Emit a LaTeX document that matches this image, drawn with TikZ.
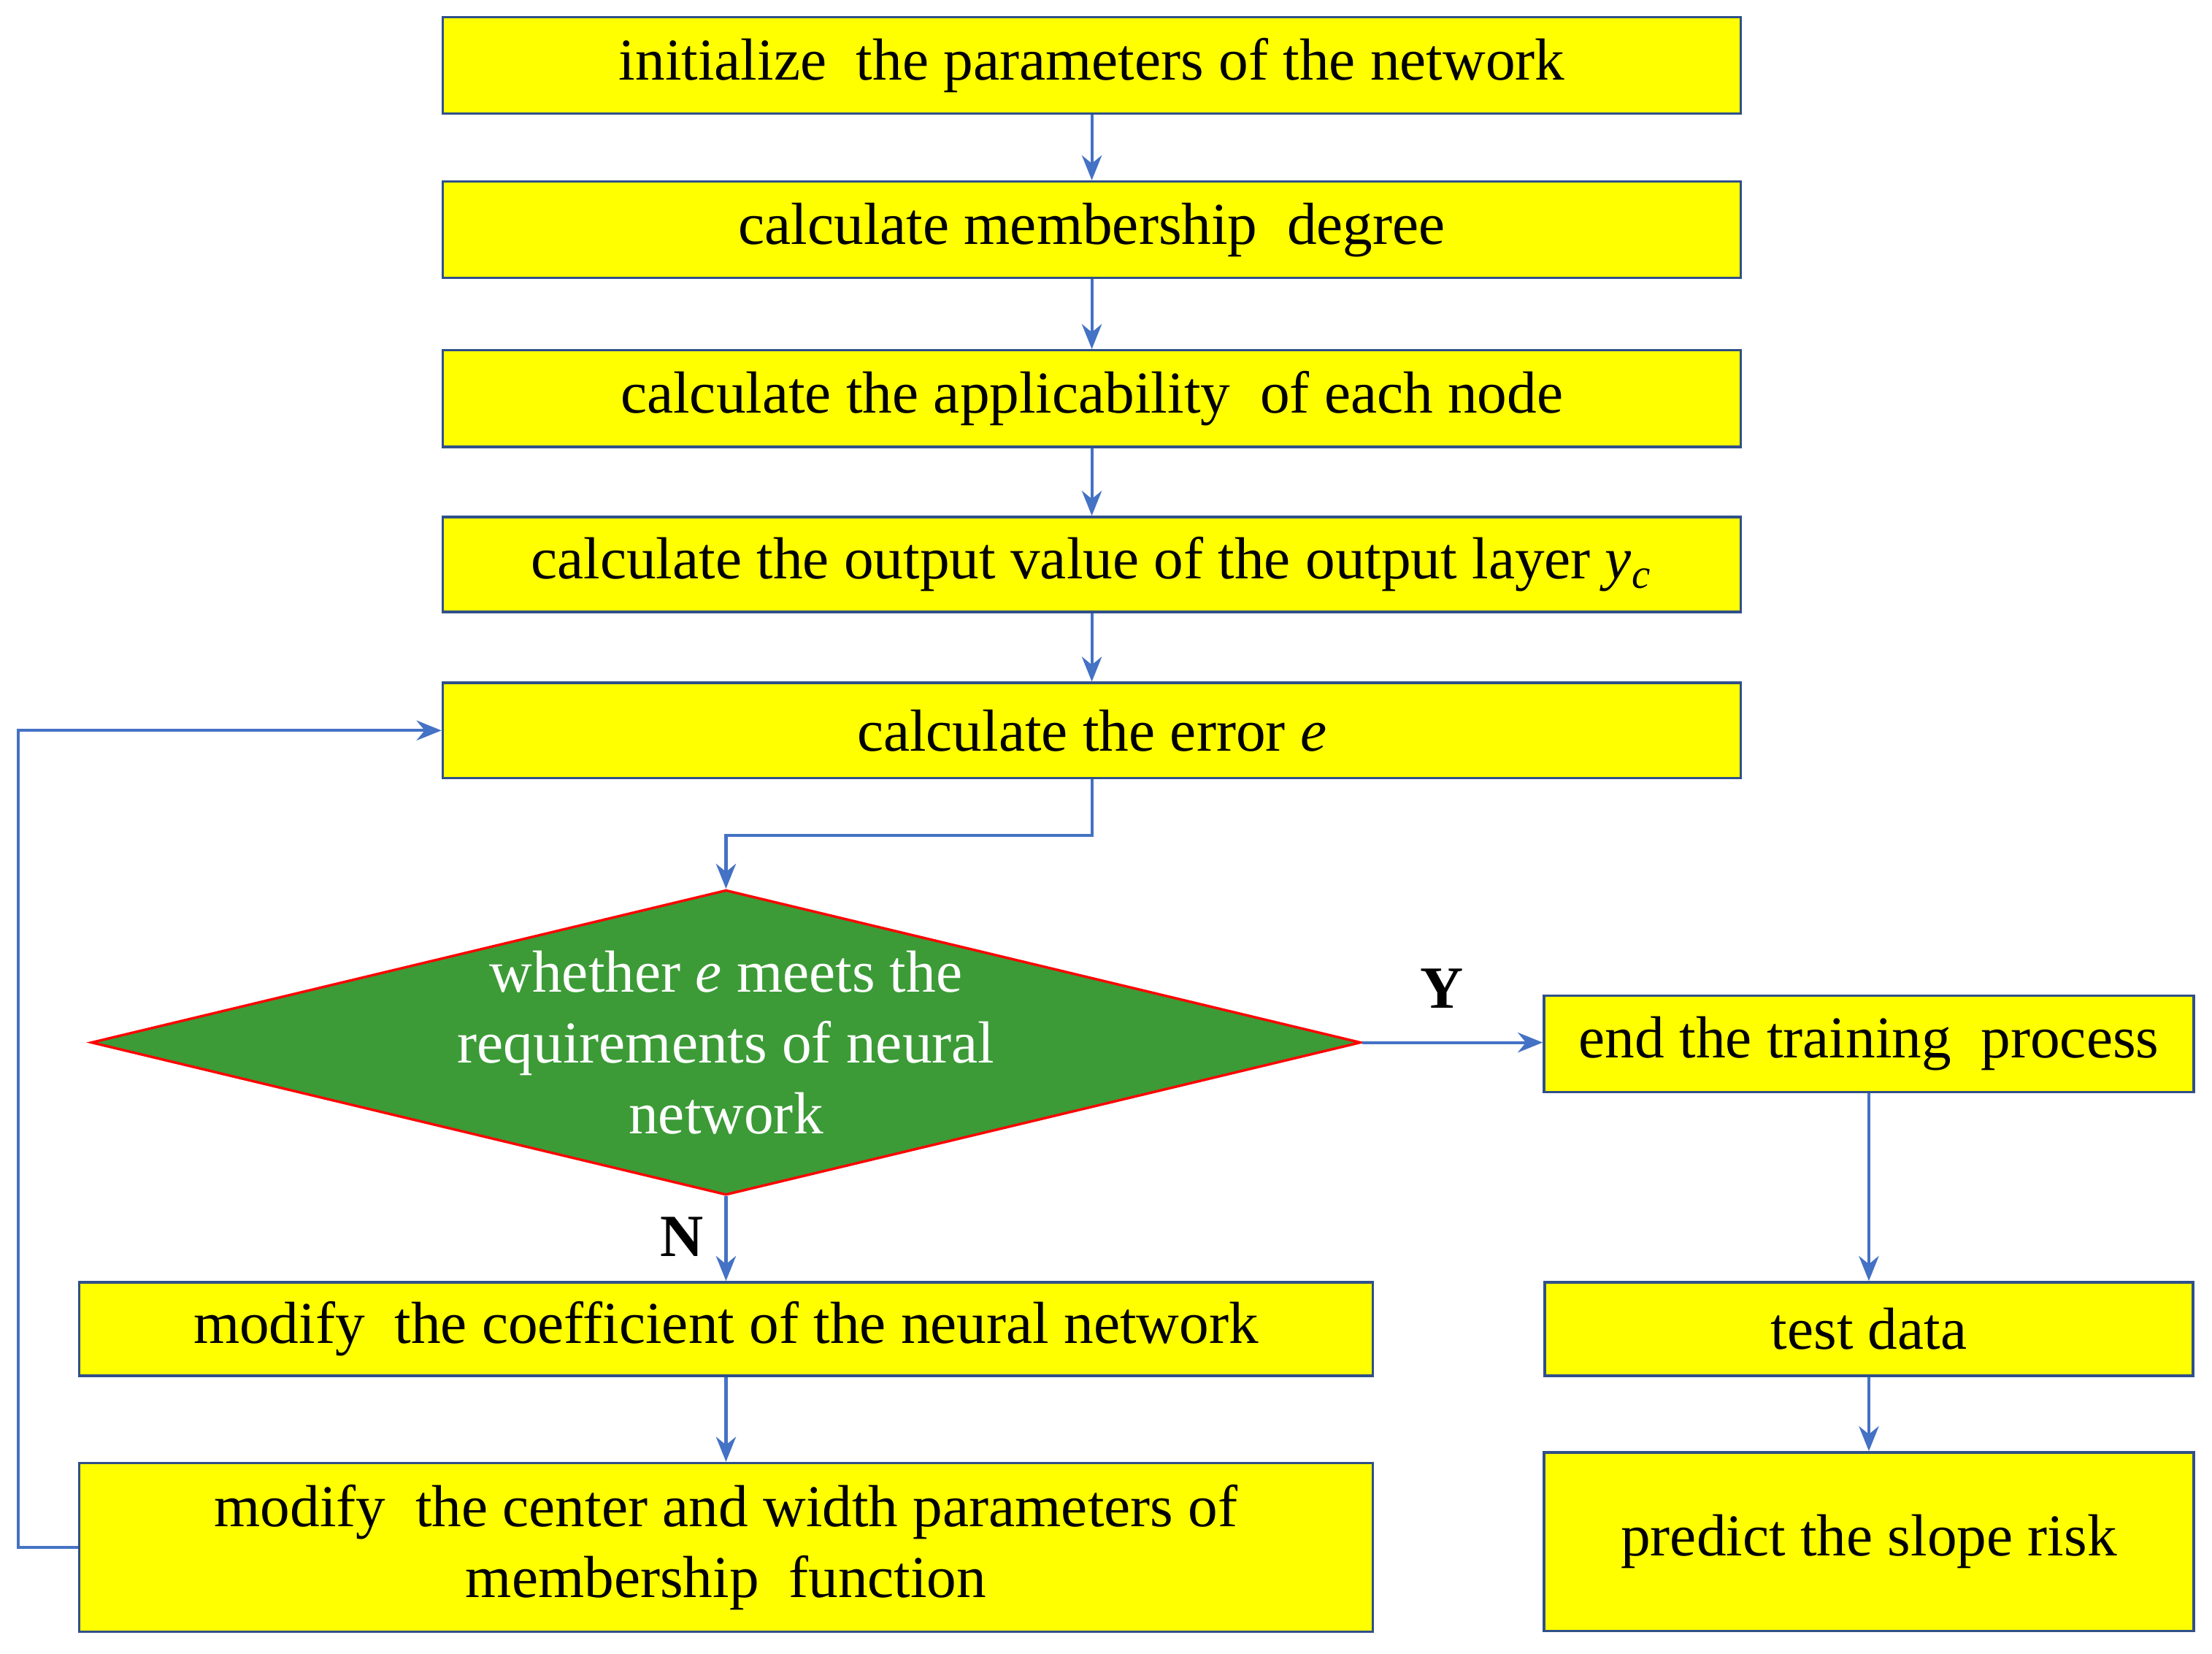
\documentclass[tikz,border=0pt]{standalone}
\usepackage{fontspec}
\setmainfont{Liberation Serif}
\usetikzlibrary{shapes.geometric,arrows.meta}
\definecolor{ybox}{RGB}{255,255,0}
\definecolor{bline}{RGB}{68,114,196}
\definecolor{dgreen}{RGB}{60,155,55}
\tikzset{
 box/.style={draw=bline!70!black,line width=0.5pt,fill=ybox,inner sep=0pt,align=center,font=\rmfamily\fontsize{11.9}{14.2}\selectfont},
 conn/.style={draw=bline,line width=0.6pt,-{Stealth[length=5pt,width=4pt]}},
}
\begin{document}
\begin{tikzpicture}[x=0.01cm,y=-0.01cm]
\useasboundingbox (0,0) rectangle (1560,1166);
\node[box,minimum width=9.15cm,minimum height=0.68cm] (b1) at (770,46) {initialize\ \ the parameters of the network};
\node[box,minimum width=9.15cm,minimum height=0.68cm] (b2) at (770,162) {calculate membership\ \ degree};
\node[box,minimum width=9.15cm,minimum height=0.68cm] (b3) at (770,281) {calculate the applicability\ \ of each node};
\node[box,minimum width=9.15cm,minimum height=0.67cm] (b4) at (770,398) {calculate the output value of the output layer \textit{y}\textsubscript{\textit{c}}};
\node[box,minimum width=9.15cm,minimum height=0.67cm] (b5) at (770,515) {calculate the error \textit{e}};
\node[diamond,draw=red,fill=dgreen,line width=0.5pt,minimum width=8.95cm,minimum height=2.15cm,inner sep=0pt,aspect=4.16] (d) at (512,735) {};
\node[text=white,align=center,font=\rmfamily\fontsize{11.9}{14.2}\selectfont] (dt) at (d.center) {whether \textit{e} meets the\\requirements of neural\\network};
\node[box,minimum width=9.12cm,minimum height=0.66cm] (m1) at (512,937) {modify\ \ the coefficient of the neural network};
\node[box,minimum width=9.12cm,minimum height=1.19cm] (m2) at (512,1091) {modify\ \ the center and width parameters of\\membership\ \ function};
\node[box,minimum width=4.58cm,minimum height=0.68cm] (e1) at (1318,736) {end the training\ \ process};
\node[box,minimum width=4.57cm,minimum height=0.66cm] (e2) at (1318,937) {test data};
\node[box,minimum width=4.58cm,minimum height=1.26cm] (e3) at (1318,1087) {predict the slope risk};
\draw[conn] (b1) -- (b2);
\draw[conn] (b2) -- (b3);
\draw[conn] (b3) -- (b4);
\draw[conn] (b4) -- (b5);
\draw[conn] (b5.south) |- (512,589) -- (d.north);
\draw[conn] (d.east) -- (d.east -| e1.west);
\draw[conn] (d.south) -- (m1.north);
\draw[conn] (m1) -- (m2);
\draw[conn] (e1) -- (e2);
\draw[conn] (e2) -- (e3);
\draw[conn] (m2.west) -- (m2.west -| 13,0) |- (b5.west);
\node[font=\rmfamily\fontsize{12}{14}\selectfont\bfseries] (y) at (1017,697) {Y};
\node[font=\rmfamily\fontsize{12}{14}\selectfont\bfseries] (n) at (481,872) {N};
\end{tikzpicture}
\end{document}
